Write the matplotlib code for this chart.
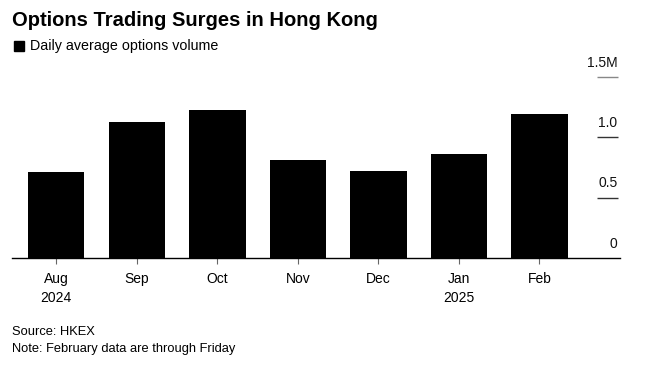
import matplotlib
matplotlib.use('Agg')
from matplotlib import pyplot as plt

months = ['Aug\n2024', 'Sep', 'Oct', 'Nov', 'Dec', 'Jan\n2025', 'Feb']
volume = [0.715, 1.125, 1.225, 0.815, 0.725, 0.865, 1.19]  # million contracts
y_ticks = [0, 0.5, 1.0, 1.5]
y_labels = ['0', '0.5', '1.0', '1.5M']

plt.rcParams['font.family'] = ['Liberation Sans', 'DejaVu Sans']

fig = plt.figure(figsize=(6.52, 3.69), dpi=100)
ax = fig.add_axes([12 / 652, 1 - 258 / 369, 608 / 652, 181 / 369])

x = list(range(len(months)))
ax.bar(x, volume, width=0.7, color='black', zorder=2)

ax.set_xlim(-0.55, 7.0)
ax.set_ylim(0, 1.5)

# y labels drawn on the right, inside the plot, above short rules
for val, lab in zip(y_ticks, y_labels):
    if val > 0:
        ax.plot([6.72, 6.98], [val, val], color='#888888' if val == 1.5 else '#333333',
                lw=1, clip_on=False, solid_capstyle='butt')
    ax.text(6.97, val + 0.06, lab, ha='right', va='bottom', fontsize=10, color='#111111')

for s in ['top', 'right', 'left']:
    ax.spines[s].set_visible(False)
ax.spines['bottom'].set_color('black')
ax.spines['bottom'].set_linewidth(1)
ax.set_yticks([])
ax.set_xticks(x)
ax.set_xticklabels(months, fontsize=10, linespacing=1.45)
ax.tick_params(axis='x', length=4, color='#666666', pad=6)

fig.text(12 / 652, 1 - 20 / 369, 'Options Trading Surges in Hong Kong',
         fontsize=14.5, fontweight='bold', va='center', ha='left')
fig.patches.append(plt.Rectangle((14 / 652, 1 - 51 / 369), 10 / 652, 10 / 369,
                                 transform=fig.transFigure, color='black'))
fig.text(30 / 652, 1 - 46 / 369, 'Daily average options volume',
         fontsize=10.3, va='center', ha='left')

fig.text(12 / 652, 1 - 332 / 369, 'Source: HKEX', fontsize=9.3, va='center')
fig.text(12 / 652, 1 - 349 / 369, 'Note: February data are through Friday',
         fontsize=9.3, va='center')

plt.savefig('out.png', dpi=100)
